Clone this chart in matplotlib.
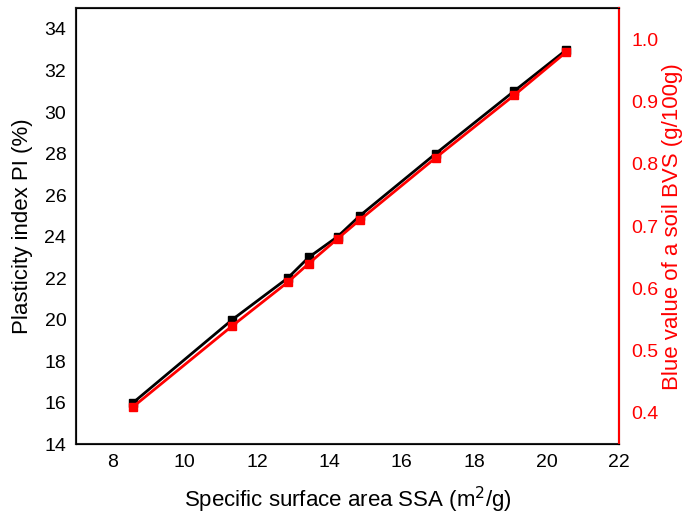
import numpy as np
import matplotlib
matplotlib.use('Agg')
import matplotlib.pyplot as plt

plt.rcParams['font.family'] = ['Liberation Sans', 'DejaVu Sans']

ssa = [8.58, 11.32, 12.85, 13.43, 14.23, 14.84, 16.94, 19.1, 20.55]
pi = [16, 20, 22, 23, 24, 25, 28, 31, 33]
bvs = [0.41, 0.54, 0.61, 0.64, 0.68, 0.71, 0.81, 0.91, 0.98]

fig = plt.figure(figsize=(6.87, 5.14), dpi=100)
ax = fig.add_axes([0.1106, 0.136, 0.7904, 0.848])
ax.plot(ssa, pi, color='black', lw=2, marker='s', ms=6)
ax.set_xlim(7, 22)
ax.set_ylim(14, 35)
ax.set_xticks(np.arange(8, 23, 2))
ax.set_yticks(np.arange(14, 35, 2))
ax.tick_params(length=0, labelsize=14, pad=7)
ax.set_xlabel('Specific surface area SSA (m$^2$/g)', fontsize=16, labelpad=10)
ax.set_ylabel('Plasticity index PI (%)', fontsize=16, labelpad=8)
for s in ax.spines.values():
    s.set_linewidth(1.5)
    s.set_color('#222222')

ax2 = ax.twinx()
ax2.plot(ssa, bvs, color='red', lw=2, marker='s', ms=6)
ax2.set_ylim(0.35, 1.05)
ax2.set_yticks(np.arange(0.4, 1.01, 0.1))
ax2.set_yticklabels(['%.1f' % v for v in np.arange(0.4, 1.01, 0.1)])
ax2.tick_params(length=0, labelsize=14, pad=9, colors='red')
ax2.spines['right'].set_color('red')
ax2.spines['right'].set_linewidth(1.5)
ax2.set_ylabel('Blue value of a soil BVS (g/100g)', fontsize=16, color='red', labelpad=2)

fig.savefig('out.png', dpi=100)
